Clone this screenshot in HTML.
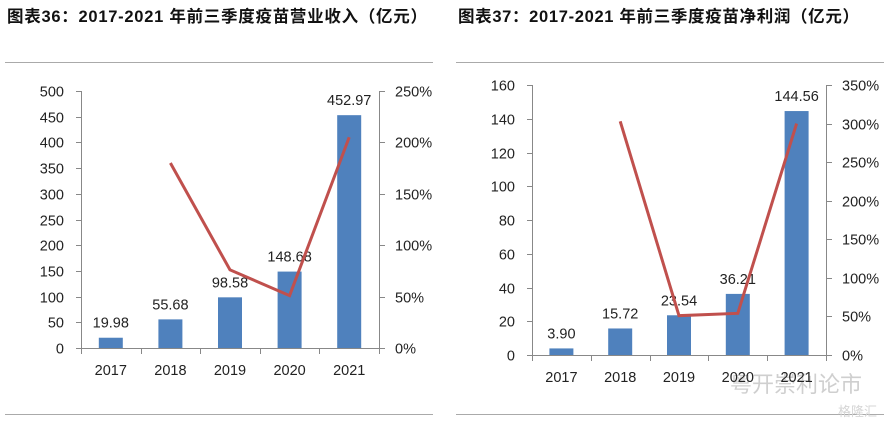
<!DOCTYPE html>
<html><head><meta charset="utf-8"><style>
body{margin:0;background:#fff;width:892px;height:423px;overflow:hidden;font-family:"Liberation Sans","Noto Sans CJK SC",sans-serif}
svg text{font-family:"Liberation Sans","Noto Sans CJK SC",sans-serif}
</style></head><body>
<svg id="svg" width="892" height="423" xmlns="http://www.w3.org/2000/svg">
<text x="7" y="22" font-size="16.5" font-weight="bold" fill="#111" textLength="420" lengthAdjust="spacing">图表36：2017-2021 年前三季度疫苗营业收入（亿元）</text>
<text x="458" y="22" font-size="16.5" font-weight="bold" fill="#111" textLength="401" lengthAdjust="spacing">图表37：2017-2021 年前三季度疫苗净利润（亿元）</text>
<line x1="5" y1="62.5" x2="433" y2="62.5" stroke="#aaa"/>
<line x1="5" y1="414.5" x2="433" y2="414.5" stroke="#aaa"/>
<line x1="456" y1="62.5" x2="884" y2="62.5" stroke="#aaa"/>
<line x1="456" y1="414.5" x2="884" y2="414.5" stroke="#aaa"/>
<text x="730" y="392" font-size="22" fill="#cfcfcf">粤开崇利论市</text>
<text x="838" y="416" font-size="13" fill="#d5d5d5">格隆汇</text>
</svg>
<script>
const categories = ["2017","2018","2019","2020","2021"];
const revenue = [19.98,55.68,98.58,148.68,452.97];
const revenueGrowth = [null,180,76,51,205];
const revenueLeftTicks = [0,50,100,150,200,250,300,350,400,450,500];
const revenueRightTicks = [0,50,100,150,200,250];
const profit = [3.90,15.72,23.54,36.21,144.56];
const profitGrowth = [null,303,51,54,300];
const profitLeftTicks = [0,20,40,60,80,100,120,140,160];
const profitRightTicks = [0,50,100,150,200,250,300,350];

const svg = document.getElementById('svg');
const NS = "http://www.w3.org/2000/svg";
function mk(tag, attrs, parent){const e=document.createElementNS(NS,tag);for(const k in attrs)e.setAttribute(k,attrs[k]);(parent||svg).appendChild(e);return e;}

function drawChart(id, cfg, vals, growth, lt, rt){
  const g = mk('g',{});
  
  
  const {x0,x1,yb,yt}=cfg;
  const lmax=lt[lt.length-1], rmax=rt[rt.length-1];
  const yL=v=>yb-(v/lmax)*(yb-yt);
  const yR=v=>yb-(v/rmax)*(yb-yt);
  const bw=(x1-x0)/categories.length;
  const cx=i=>x0+bw*(i+0.5);
  const la=mk('line',{x1:x0+.5,y1:yt,x2:x0+.5,y2:yb+6,stroke:'#888'},g);
  
  
  const ra=mk('line',{x1:x1+.5,y1:yt,x2:x1+.5,y2:yb+6,stroke:'#888'},g);
  
  
  const xa=mk('line',{x1:x0-5,y1:yb+.5,x2:x1+6,y2:yb+.5,stroke:'#888'},g);
  
  
  lt.forEach(v=>{
    const y=Math.round(yL(v))+.5;
    mk('line',{x1:x0-5,y1:y,x2:x0,y2:y,stroke:'#888'},g);
    const t=mk('text',{x:x0-17,y:y+5,'font-size':14.5,'text-anchor':'end',fill:'#222'},g);
    t.textContent=v;
    
    
  });
  rt.forEach(v=>{
    const y=Math.round(yR(v))+.5;
    mk('line',{x1:x1,y1:y,x2:x1+6,y2:y,stroke:'#888'},g);
    const t=mk('text',{x:x1+16,y:y+5,'font-size':14.5,fill:'#222'},g);
    t.textContent=v+'%';
    
    
  });
  for(let i=0;i<=categories.length;i++){
    const x=Math.round(x0+bw*i)+.5;
    mk('line',{x1:x,y1:yb,x2:x,y2:yb+6,stroke:'#888'},g);
  }
  categories.forEach((c,i)=>{
    const t=mk('text',{x:cx(i),y:yb+27,'font-size':14.5,'text-anchor':'middle',fill:'#222'},g);
    t.textContent=c;
    
    
    const w=24;
    const r=mk('rect',{x:cx(i)-w/2,y:yL(vals[i]),width:w,height:yb-yL(vals[i]),fill:'#4f81bd'},g);
    
    
    const l=mk('text',{x:cx(i),y:yL(vals[i])-10,'font-size':14.5,'text-anchor':'middle',fill:'#222'},g);
    l.textContent=vals[i].toFixed(2);
    
    
  });
  const pts=[];
  growth.forEach((v,i)=>{if(v!==null)pts.push(cx(i)+','+yR(v));});
  const p=mk('polyline',{points:pts.join(' '),fill:'none',stroke:'#c0504d','stroke-width':3},g);
  
  
}
drawChart('revenue-chart',{x0:81,x1:379,yb:348,yt:91},revenue,revenueGrowth,revenueLeftTicks,revenueRightTicks);
drawChart('profit-chart',{x0:532,x1:826,yb:355,yt:85},profit,profitGrowth,profitLeftTicks,profitRightTicks);
</script>
</body></html>
